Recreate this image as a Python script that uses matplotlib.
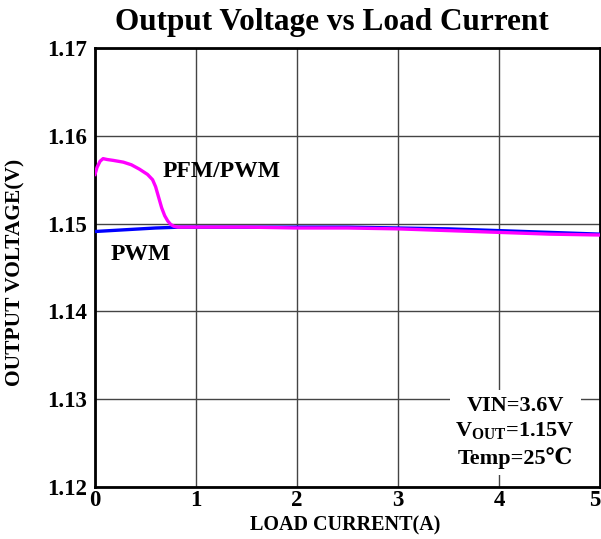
import matplotlib
matplotlib.use('Agg')
import matplotlib.pyplot as plt

# data
pwm_current = [0.0, 0.3, 0.6, 0.85, 1.5, 2.0, 2.5, 3.0, 3.5, 4.0, 4.5, 5.0]
pwm_voltage = [1.1491, 1.1493, 1.1495, 1.1496, 1.1496, 1.1496, 1.1496, 1.1495, 1.1494, 1.1492, 1.1490, 1.1488]

pfm_current = [0.0, 0.02, 0.05, 0.08, 0.12, 0.18, 0.28, 0.36, 0.44, 0.52, 0.57, 0.60,
               0.63, 0.66, 0.69, 0.72, 0.75, 0.78, 0.82, 0.9, 1.0, 1.5, 2.0, 2.5,
               3.0, 3.5, 4.0, 4.5, 5.0]
pfm_voltage = [1.1556, 1.1564, 1.1571, 1.1574, 1.1573, 1.1572, 1.1570, 1.1567, 1.1562,
               1.1556, 1.1550, 1.1542, 1.1530, 1.1518, 1.1509, 1.1503, 1.1499, 1.1497,
               1.1496, 1.1496, 1.1496, 1.1496, 1.1495, 1.1495, 1.1494, 1.1492,
               1.1490, 1.1488, 1.1487]

x_ticks = [0, 1, 2, 3, 4, 5]
y_ticks = [1.12, 1.13, 1.14, 1.15, 1.16, 1.17]

serif = ['Liberation Serif', 'DejaVu Serif']
plt.rcParams['font.family'] = serif
plt.rcParams['font.weight'] = 'bold'
plt.rcParams['mathtext.fontset'] = 'custom'
plt.rcParams['mathtext.rm'] = 'Liberation Serif:bold'
plt.rcParams['mathtext.bf'] = 'Liberation Serif:bold'

fig = plt.figure(figsize=(6.01, 5.39), dpi=100)
ax = fig.add_axes([95 / 601, 1 - 487 / 539, 505 / 601, 439 / 539])

ax.plot(pwm_current, pwm_voltage, color='#0000ff', lw=2.4, zorder=3)
ax.plot(pfm_current, pfm_voltage, color='#ff00ff', lw=2.4, zorder=4)

ax.set_xlim(0, 5)
ax.set_ylim(1.12, 1.17)
ax.set_xticks(x_ticks)
ax.set_yticks(y_ticks)
ax.set_xticklabels([str(t) for t in x_ticks])
ax.set_yticklabels(['%.2f' % t for t in y_ticks])
ax.tick_params(length=0, labelsize=16.5)
ax.tick_params(axis='x', pad=2)
ax.tick_params(axis='y', pad=6)
for lab in ax.get_xticklabels() + ax.get_yticklabels():
    lab.set_fontweight('bold')
ax.get_xticklabels()[-1].set_horizontalalignment('right')
ax.grid(True, color='#444444', lw=1.0)
for s in ax.spines.values():
    s.set_linewidth(2)
    s.set_color('black')

ax.text(1.25, 1.1559, 'PFM/PWM', fontsize=17, fontweight='bold', ha='center', va='center')
ax.text(0.45, 1.1465, 'PWM', fontsize=17, fontweight='bold', ha='center', va='center')

ax.text(4.16, 1.1262, 'VIN=3.6V\n' + r'V$_{\mathrm{OUT}}$=1.15V' + '\nTemp=25\u2103',
        fontsize=16, fontweight='bold', ha='center', va='center', linespacing=1.3,
        bbox=dict(facecolor='white', edgecolor='none', pad=4), zorder=5)

fig.text(0.553, 0.958, 'Output Voltage vs Load Current', fontsize=22.5, fontweight='bold',
         ha='center', va='center')
fig.text(345 / 601, 1 - 525 / 539, 'LOAD CURRENT(A)', fontsize=14.5, fontweight='bold',
         ha='center', va='center')
fig.text(15 / 601, 1 - 272 / 539, 'OUTPUT VOLTAGE(V)', fontsize=15.5, fontweight='bold',
         ha='center', va='center', rotation=90)

fig.savefig('out.png', dpi=100)
